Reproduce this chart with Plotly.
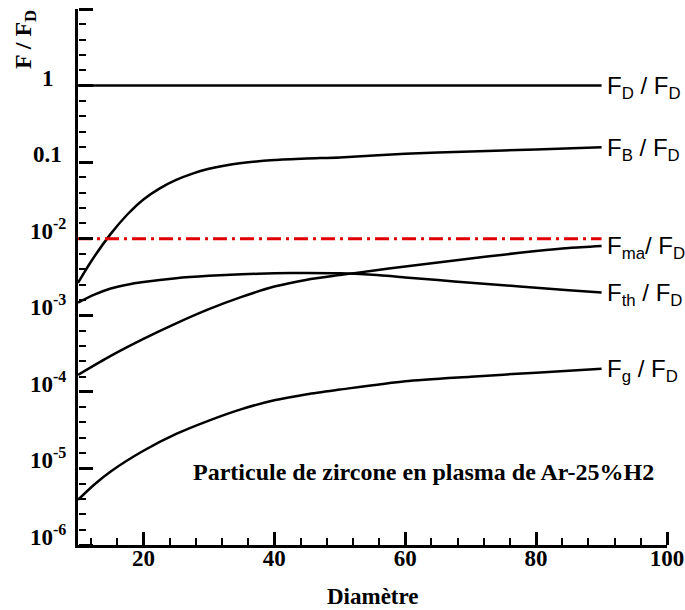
import math
import plotly.graph_objects as go

# ---------------- data ----------------
diam_fd = [10, 90]
ratio_fd = [1.0, 1.0]

diam_fb = [10, 12, 15, 17.5, 20, 22.5, 25, 27.5, 30, 35, 40, 45, 50, 60, 70, 80, 90]
ratio_fb = [0.00265, 0.00504, 0.01156, 0.02056, 0.0326, 0.0455, 0.0586, 0.0708, 0.0818,
            0.0973, 0.1067, 0.1117, 0.1153, 0.129, 0.138, 0.146, 0.156]

diam_fma = [10, 15, 20, 25, 30, 35, 40, 45, 50, 55, 60, 65, 70, 75, 80, 85, 90]
ratio_fma = [1.667e-4, 2.951e-4, 4.92e-4, 7.85e-4, 1.202e-3, 1.738e-3, 2.371e-3, 2.917e-3,
             3.35e-3, 3.82e-3, 4.34e-3, 4.90e-3, 5.52e-3, 6.19e-3, 6.92e-3, 7.59e-3, 8.05e-3]

diam_fth = [10, 12.5, 15, 17.5, 20, 25, 30, 35, 40, 45, 50, 55, 60, 65, 70, 75, 80, 85, 90]
ratio_fth = [1.466e-3, 1.862e-3, 2.239e-3, 2.512e-3, 2.723e-3, 3.055e-3, 3.273e-3, 3.428e-3,
             3.532e-3, 3.573e-3, 3.532e-3, 3.373e-3, 3.126e-3, 2.884e-3, 2.661e-3, 2.472e-3,
             2.291e-3, 2.128e-3, 1.977e-3]

diam_fg = [10, 12.5, 15, 20, 25, 30, 35, 40, 45, 50, 60, 70, 80, 90]
ratio_fg = [3.89e-6, 6.17e-6, 9.12e-6, 1.70e-5, 2.82e-5, 4.22e-5, 5.96e-5, 7.76e-5,
            9.33e-5, 1.07e-4, 1.38e-4, 1.58e-4, 1.78e-4, 2.0e-4]

diam_ref = [10, 90]
ratio_ref = [0.01, 0.01]

curve_labels = ["F<sub>D</sub> / F<sub>D</sub>",
                "F<sub>B</sub> / F<sub>D</sub>",
                "F<sub>ma</sub>/ F<sub>D</sub>",
                "F<sub>th</sub> / F<sub>D</sub>",
                "F<sub>g</sub> / F<sub>D</sub>"]

x_tick_vals = [20, 40, 60, 80, 100]
x_tick_text = ["<b>20</b>", "<b>40</b>", "<b>60</b>", "<b>80</b>", "<b>100</b>"]
y_tick_vals = [1e-6, 1e-5, 1e-4, 1e-3, 1e-2, 0.1, 1, 10]
y_tick_text = ["<b>10<sup>-6</sup></b>", "<b>10<sup>-5</sup></b>", "<b>10<sup>-4</sup></b>",
               "<b>10<sup>-3</sup></b>", "<b>10<sup>-2</sup></b>", "<b>0.1</b>", "<b>1</b>", ""]

X_RANGE = [10, 100]
Y_RANGE_LOG = [-6, 1]

# ---------------- figure ----------------
SERIF = "Liberation Serif"
SANS = "Liberation Sans"

fig = go.Figure()
series = [(diam_fd, ratio_fd), (diam_fb, ratio_fb), (diam_fma, ratio_fma),
          (diam_fth, ratio_fth), (diam_fg, ratio_fg)]
for xs, ys in series:
    fig.add_trace(go.Scatter(x=xs, y=ys, mode="lines",
                             line=dict(color="black", width=2.5, shape="spline", smoothing=0.7),
                             hoverinfo="skip", showlegend=False))

fig.add_trace(go.Scatter(x=diam_ref, y=ratio_ref, mode="lines",
                         line=dict(color="#e00000", width=3, dash="14px,5px,3px,5px"),
                         hoverinfo="skip", showlegend=False))

# empty carrier trace so the tick-only overlay axes are drawn
fig.add_trace(go.Scatter(x=[], y=[], xaxis="x2", yaxis="y2", mode="lines",
                         hoverinfo="skip", showlegend=False))

minor_x = [v for v in range(12, 100, 4) if v % 20 != 0]
minor_y = [10 ** (k + 0.2 * j) for k in range(-6, 1) for j in range(1, 5)]

common = dict(showgrid=False, zeroline=False, automargin=False)

fig.update_layout(
    width=685, height=610,
    margin=dict(l=78, r=18, t=9, b=65),
    plot_bgcolor="white", paper_bgcolor="white",
    showlegend=False,
    xaxis=dict(range=X_RANGE, tickmode="array", tickvals=x_tick_vals, ticktext=x_tick_text,
               ticks="", showline=True, linewidth=3, linecolor="black",
               tickfont=dict(family=SERIF, size=23, color="black"),
               ticklabelstandoff=-10, **common),
    yaxis=dict(type="log", range=Y_RANGE_LOG, tickmode="array", tickvals=y_tick_vals,
               ticks="", showline=True, linewidth=3, linecolor="black",
               showticklabels=False, **common),
    # tick-only axes lying on the bottom / left frame, ticks pointing into the plot
    xaxis2=dict(overlaying="x", anchor="free", position=0, side="top", range=X_RANGE,
                tickmode="array", tickvals=x_tick_vals, ticks="outside", ticklen=13,
                tickwidth=2.5, tickcolor="black", showticklabels=False, showline=False,
                minor=dict(tickmode="array", tickvals=minor_x, ticks="outside", ticklen=7,
                           tickwidth=2, tickcolor="black", showgrid=False),
                **common),
    yaxis2=dict(overlaying="y", anchor="free", position=0, side="right", type="log",
                range=Y_RANGE_LOG, tickmode="array", tickvals=y_tick_vals, ticks="outside",
                ticklen=14, tickwidth=2.5, tickcolor="black", showticklabels=False,
                showline=False,
                minor=dict(tickmode="array", tickvals=minor_y, ticks="outside", ticklen=7,
                           tickwidth=2, tickcolor="black", showgrid=False),
                **common),
)

# y tick labels, centred in the left margin like the reference
for val, txt in zip(y_tick_vals, y_tick_text):
    if not txt:
        continue
    fig.add_annotation(x=-0.051, y=math.log10(val), xref="paper", yref="y", text=txt,
                       showarrow=False, xanchor="center", yanchor="bottom", yshift=-7,
                       font=dict(family=SERIF, size=23, color="black"))

label_ends = [ratio_fd[-1], ratio_fb[-1], ratio_fma[-1], ratio_fth[-1], ratio_fg[-1]]
for txt, yv in zip(curve_labels, label_ends):
    fig.add_annotation(x=90, y=math.log10(yv), xref="x", yref="y", text=txt,
                       showarrow=False, xanchor="left", yanchor="middle", xshift=3, yshift=-2,
                       font=dict(family=SANS, size=24, color="black"))

fig.add_annotation(x=-0.09, y=0.944, xref="paper", yref="paper",
                   text="<b>F / F<sub>D</sub></b>", textangle=-90, showarrow=False,
                   xanchor="center", yanchor="middle",
                   font=dict(family=SERIF, size=24, color="black"))

fig.add_annotation(x=0.5, y=-0.097, xref="paper", yref="paper",
                   text="<b>Diamètre</b>", showarrow=False, xanchor="center", yanchor="middle",
                   font=dict(family=SERIF, size=23, color="black"))

fig.add_annotation(x=0.587, y=0.136, xref="paper", yref="paper",
                   text="<b>Particule de zircone en plasma de Ar-25%H2</b>", showarrow=False,
                   xanchor="center", yanchor="middle",
                   font=dict(family=SERIF, size=24, color="black"))

fig.write_html("out.html")
